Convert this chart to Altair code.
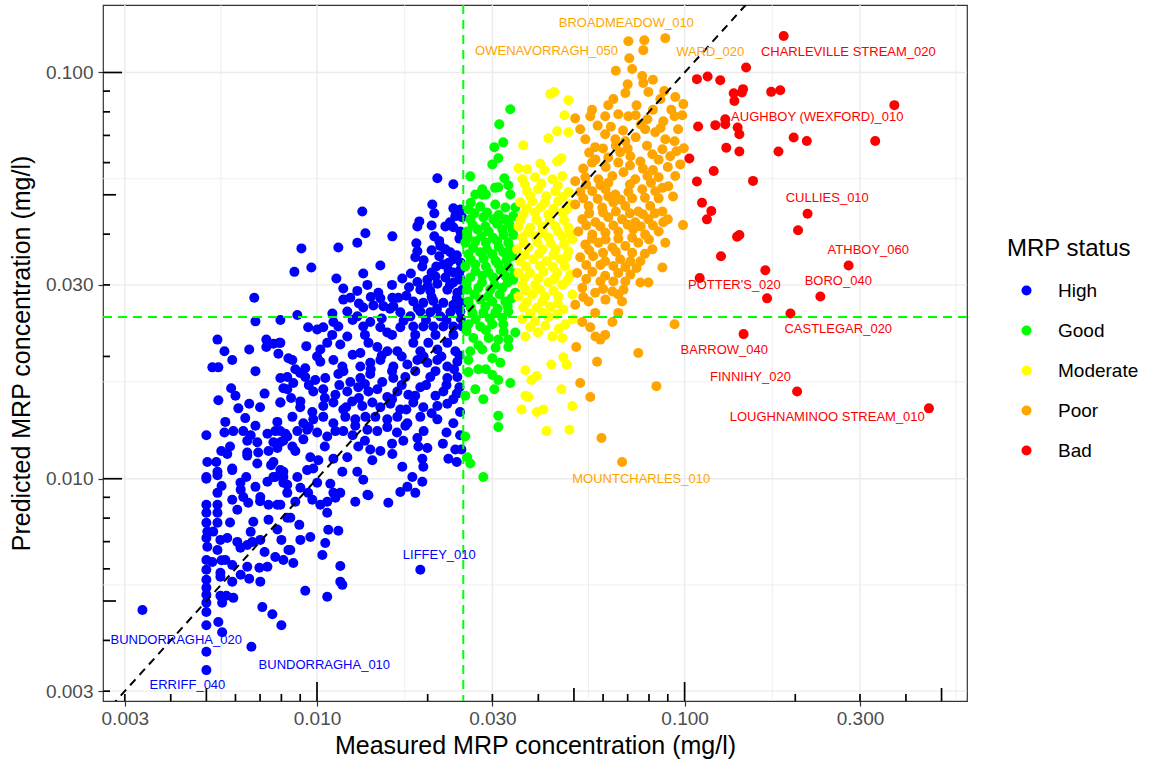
import altair as alt
import pandas as pd

# Measured vs predicted MRP concentration (mg/l), one (measured, predicted) pair per water body
high_sites = [
    (0.00675, 0.0279), (0.00680, 0.0244), (0.00795, 0.0246), (0.00536, 0.0220), (0.00560, 0.0206),
    (0.00588, 0.0196), (0.00654, 0.0208), (0.00728, 0.0220), (0.00728, 0.0211), (0.00761, 0.0215),
    (0.00790, 0.0216), (0.00785, 0.0203), (0.00836, 0.0198), (0.00519, 0.0188), (0.00539, 0.0188),
    (0.00680, 0.0184), (0.00830, 0.0178), (0.00584, 0.0167), (0.00810, 0.0167), (0.00539, 0.0156),
    (0.00654, 0.0153), (0.00611, 0.0149), (0.00795, 0.0154), (0.00638, 0.0141), (0.00563, 0.0138),
    (0.00780, 0.0138), (0.00500, 0.0128), (0.00560, 0.0130), (0.00592, 0.0131), (0.00630, 0.0131),
    (0.00680, 0.0135), (0.00733, 0.0129), (0.00770, 0.0131), (0.00820, 0.0129), (0.00646, 0.0124),
    (0.00688, 0.0123), (0.00761, 0.0123), (0.00810, 0.0124), (0.00549, 0.0117), (0.00570, 0.0115),
    (0.00646, 0.0116), (0.00692, 0.0116), (0.00738, 0.0117), (0.00780, 0.0119), (0.00503, 0.0110),
    (0.00532, 0.0110), (0.00588, 0.0106), (0.00646, 0.0114), (0.00688, 0.0109), (0.00761, 0.0110),
    (0.00500, 0.0101), (0.00536, 0.0104), (0.00642, 0.0101), (0.00761, 0.0101), (0.00810, 0.0104),
    (0.00500, 0.0100), (0.00536, 0.0102), (0.00588, 0.0105), (0.00536, 0.00923), (0.00619, 0.00977),
    (0.00680, 0.00955), (0.00733, 0.00983), (0.00770, 0.0101), (0.00810, 0.00977), (0.00500, 0.00863),
    (0.00536, 0.00863), (0.00588, 0.00888), (0.00630, 0.00902), (0.00650, 0.00873), (0.00607, 0.00839),
    (0.00701, 0.00902), (0.00738, 0.00863), (0.00780, 0.00863), (0.00830, 0.00923), (0.00500, 0.00825),
    (0.00536, 0.00825), (0.00671, 0.00784), (0.00738, 0.00793), (0.00500, 0.00779), (0.00536, 0.00779),
    (0.00503, 0.00741), (0.00522, 0.00741), (0.00830, 0.00802), (0.00546, 0.00707), (0.00570, 0.00715),
    (0.00607, 0.00699), (0.00619, 0.00676), (0.00646, 0.00687), (0.00667, 0.00699), (0.00701, 0.00707),
    (0.00500, 0.00715), (0.00503, 0.00680), (0.00800, 0.00707), (0.00536, 0.00668), (0.00836, 0.00668),
    (0.00500, 0.00631), (0.00519, 0.00624), (0.00563, 0.00631), (0.00588, 0.00613), (0.00770, 0.00642),
    (0.00810, 0.00631), (0.00500, 0.00597), (0.00546, 0.00587), (0.00646, 0.00607), (0.00697, 0.00604),
    (0.00733, 0.00607), (0.00500, 0.00564), (0.00500, 0.00539), (0.00546, 0.00574), (0.00588, 0.00558),
    (0.00654, 0.00567), (0.00701, 0.00558), (0.00500, 0.00518), (0.00546, 0.00515), (0.00567, 0.00515),
    (0.00592, 0.00509), (0.00552, 0.00495), (0.00500, 0.00495), (0.00335, 0.00475), (0.00500, 0.00470),
    (0.00710, 0.00483), (0.00756, 0.00464), (0.00800, 0.00436), (0.00500, 0.00436), (0.00539, 0.00444),
    (0.00552, 0.00419), (0.00663, 0.00386), (0.00500, 0.00375), (0.00500, 0.00338),
    (0.02125, 0.0549), (0.02349, 0.0531), (0.01328, 0.0455), (0.02059, 0.0473), (0.02085, 0.0450),
    (0.02349, 0.0463), (0.02454, 0.0460), (0.02480, 0.0440), (0.02378, 0.0443), (0.01898, 0.0430),
    (0.01875, 0.0418), (0.02234, 0.0418), (0.02349, 0.0416), (0.02454, 0.0406), (0.01354, 0.0402),
    (0.01287, 0.0381), (0.01603, 0.0395), (0.02085, 0.0395), (0.01863, 0.0380), (0.01875, 0.0363),
    (0.01851, 0.0351), (0.02165, 0.0374), (0.02234, 0.0367), (0.02151, 0.0353), (0.02305, 0.0361),
    (0.02349, 0.0347), (0.00907, 0.0369), (0.01143, 0.0371), (0.01934, 0.0333), (0.00965, 0.0331),
    (0.00868, 0.0323), (0.01487, 0.0335), (0.02111, 0.0333), (0.02206, 0.0337), (0.02349, 0.0322),
    (0.02454, 0.0327), (0.01129, 0.0311), (0.01336, 0.0320), (0.01371, 0.0300), (0.01706, 0.0311),
    (0.01875, 0.0305), (0.01996, 0.0309), (0.02098, 0.0315), (0.02234, 0.0313), (0.02349, 0.0304),
    (0.02454, 0.0309), (0.01179, 0.0294), (0.01287, 0.0290), (0.01468, 0.0287), (0.01487, 0.0278),
    (0.01910, 0.0292), (0.02033, 0.0290), (0.02125, 0.0302), (0.02262, 0.0292), (0.02408, 0.0287),
    (0.02485, 0.0292), (0.01179, 0.0276), (0.01232, 0.0279), (0.01603, 0.0279), (0.01664, 0.0279),
    (0.01423, 0.0267), (0.01515, 0.0266), (0.01828, 0.0273), (0.01946, 0.0271), (0.02072, 0.0274),
    (0.02206, 0.0271), (0.02349, 0.0268), (0.02485, 0.0271), (0.01209, 0.0258), (0.01287, 0.0251),
    (0.01336, 0.0264), (0.00884, 0.0253), (0.01101, 0.0255), (0.01108, 0.0243), (0.01143, 0.0237),
    (0.01613, 0.0266), (0.01685, 0.0257), (0.01794, 0.0251), (0.01910, 0.0258), (0.02033, 0.0257),
    (0.02165, 0.0251), (0.02305, 0.0257), (0.02454, 0.0258), (0.00946, 0.0236), (0.01001, 0.0233),
    (0.01040, 0.0236), (0.01336, 0.0237), (0.01396, 0.0243), (0.01487, 0.0236), (0.01553, 0.0229),
    (0.01685, 0.0236), (0.01828, 0.0237), (0.01946, 0.0237), (0.02072, 0.0237), (0.02206, 0.0237),
    (0.02349, 0.0237), (0.02485, 0.0237), (0.00795, 0.0216), (0.00935, 0.0212), (0.01021, 0.0208),
    (0.01066, 0.0216), (0.01157, 0.0214), (0.01209, 0.0224), (0.01312, 0.0204), (0.01380, 0.0216),
    (0.01459, 0.0211), (0.01553, 0.0206), (0.01654, 0.0206), (0.01828, 0.0216), (0.01910, 0.0206),
    (0.02008, 0.0216), (0.02125, 0.0208), (0.02262, 0.0216), (0.02378, 0.0206), (0.00857, 0.0196),
    (0.00873, 0.0186), (0.00929, 0.0187), (0.01021, 0.0194), (0.01108, 0.0196), (0.01172, 0.0189),
    (0.01312, 0.0189), (0.01396, 0.0193), (0.01487, 0.0196), (0.01613, 0.0189), (0.01761, 0.0191),
    (0.01875, 0.0196), (0.01996, 0.0193), (0.02125, 0.0196), (0.02262, 0.0189), (0.02408, 0.0194),
    (0.00795, 0.0177), (0.00862, 0.0172), (0.00929, 0.0178), (0.00989, 0.0175), (0.01053, 0.0177),
    (0.01143, 0.0181), (0.01232, 0.0173), (0.01312, 0.0177), (0.01396, 0.0181), (0.01505, 0.0173),
    (0.01613, 0.0177), (0.01739, 0.0178), (0.02033, 0.0178), (0.02262, 0.0177), (0.02408, 0.0178),
    (0.00830, 0.0166), (0.00901, 0.0155), (0.00977, 0.0164), (0.01040, 0.0166), (0.01122, 0.0161),
    (0.01209, 0.0164), (0.01295, 0.0168), (0.01380, 0.0164), (0.01459, 0.0166), (0.01553, 0.0159),
    (0.01654, 0.0164), (0.01772, 0.0161), (0.01910, 0.0168), (0.02206, 0.0164), (0.02349, 0.0157),
    (0.00795, 0.0154), (0.00971, 0.0146), (0.01040, 0.0151), (0.01108, 0.0154), (0.01179, 0.0148),
    (0.01247, 0.0155), (0.01328, 0.0151), (0.01414, 0.0154), (0.01487, 0.0150), (0.01583, 0.0153),
    (0.01685, 0.0148), (0.01828, 0.0154), (0.01946, 0.0150), (0.02125, 0.0151), (0.02262, 0.0153),
    (0.00857, 0.0142), (0.00918, 0.0137), (0.00977, 0.0140), (0.01040, 0.0142), (0.01108, 0.0137),
    (0.01194, 0.0142), (0.01271, 0.0140), (0.01354, 0.0142), (0.01441, 0.0142), (0.01553, 0.0140),
    (0.01654, 0.0142), (0.01761, 0.0137), (0.01910, 0.0142), (0.02125, 0.0140), (0.02349, 0.0137),
    (0.00795, 0.0131), (0.00830, 0.0127), (0.00884, 0.0131), (0.00940, 0.0132), (0.01001, 0.0130),
    (0.01066, 0.0127), (0.01122, 0.0131), (0.01179, 0.0131), (0.01271, 0.0135), (0.01371, 0.0132),
    (0.01459, 0.0131), (0.01553, 0.0134), (0.01739, 0.0135), (0.00795, 0.0123), (0.00857, 0.0120),
    (0.00918, 0.0125), (0.01295, 0.0120), (0.01396, 0.0118), (0.01487, 0.0117), (0.01603, 0.0115),
    (0.01717, 0.0124), (0.01875, 0.0126), (0.01887, 0.0120), (0.01996, 0.0119), (0.00873, 0.0117),
    (0.00959, 0.0113), (0.01008, 0.0111), (0.01108, 0.0112), (0.01209, 0.0113), (0.02277, 0.0112),
    (0.02378, 0.0118), (0.02470, 0.0118), (0.01934, 0.0112), (0.01946, 0.0107), (0.01414, 0.0111),
    (0.01706, 0.0107), (0.00795, 0.0105), (0.00940, 0.0105), (0.00977, 0.0106), (0.01172, 0.0104),
    (0.01287, 0.0104), (0.01336, 0.00994), (0.01380, 0.00911), (0.01817, 0.0101), (0.01934, 0.00983),
    (0.00810, 0.0101), (0.00884, 0.0101), (0.00830, 0.00966), (0.00901, 0.00950), (0.00946, 0.00923),
    (0.01001, 0.00977), (0.01087, 0.00972), (0.01108, 0.00923), (0.01157, 0.00923), (0.01685, 0.00928),
    (0.01761, 0.00955), (0.01851, 0.00923), (0.00795, 0.00863), (0.00873, 0.00878), (0.00971, 0.00888),
    (0.01021, 0.00863), (0.01066, 0.00878), (0.01122, 0.00898), (0.01271, 0.00878), (0.01371, 0.00913),
    (0.01563, 0.00873), (0.01066, 0.00825), (0.00846, 0.00802), (0.00895, 0.00770), (0.01073, 0.00749),
    (0.01143, 0.00745), (0.00959, 0.00719), (0.00901, 0.00707), (0.01053, 0.00695), (0.00846, 0.00668),
    (0.01034, 0.00649), (0.00862, 0.00620), (0.01157, 0.00610), (0.01157, 0.00558), (0.01172, 0.00548),
    (0.00929, 0.00530), (0.01066, 0.00512), (0.01910, 0.00597),
    (0.0205, 0.0420), (0.0230, 0.0428), (0.0244, 0.0390), (0.0215, 0.0385), (0.0240, 0.0355),
    (0.0205, 0.0365), (0.0228, 0.0340), (0.0195, 0.0345), (0.0246, 0.0340), (0.0180, 0.0320),
    (0.0205, 0.0322), (0.0228, 0.0325), (0.0244, 0.0315), (0.0160, 0.0300), (0.0178, 0.0296),
    (0.0200, 0.0298), (0.0230, 0.0300), (0.0140, 0.0280), (0.0175, 0.0282), (0.0205, 0.0280),
    (0.0240, 0.0278), (0.0130, 0.0270), (0.0158, 0.0262), (0.0188, 0.0263), (0.0212, 0.0262),
    (0.0238, 0.0264), (0.0125, 0.0246), (0.0150, 0.0248), (0.0172, 0.0245), (0.0198, 0.0246),
    (0.0225, 0.0246), (0.0246, 0.0248), (0.0110, 0.0226), (0.0135, 0.0226), (0.0160, 0.0226),
    (0.0185, 0.0226), (0.0210, 0.0226), (0.0235, 0.0226), (0.0100, 0.0200), (0.0125, 0.0202),
    (0.0150, 0.0201), (0.0170, 0.0200), (0.0195, 0.0200), (0.0218, 0.0200), (0.0244, 0.0201),
    (0.0090, 0.0182), (0.0118, 0.0184), (0.0140, 0.0186), (0.0160, 0.0184), (0.0185, 0.0184),
    (0.0210, 0.0184), (0.0236, 0.0186), (0.0095, 0.0170), (0.0115, 0.0170), (0.0135, 0.0171),
    (0.0170, 0.0170), (0.0198, 0.0170), (0.0225, 0.0170), (0.0244, 0.0168), (0.0105, 0.0158),
    (0.0130, 0.0158), (0.0160, 0.0157), (0.0185, 0.0160), (0.0210, 0.0160), (0.0240, 0.0162),
    (0.0090, 0.0150), (0.0120, 0.0150), (0.0175, 0.0148), (0.0205, 0.0145), (0.0245, 0.0146),
    (0.0095, 0.0134), (0.0125, 0.0128), (0.0165, 0.0130), (0.0195, 0.0131), (0.0225, 0.0130),
    (0.0245, 0.0128), (0.0105, 0.0120), (0.0135, 0.0124), (0.0160, 0.0122), (0.0220, 0.0122),
    (0.0240, 0.0110), (0.0070, 0.0150), (0.0072, 0.0162), (0.0060, 0.0160), (0.0085, 0.0158),
    (0.0066, 0.0128), (0.0058, 0.0120), (0.0075, 0.0108), (0.0062, 0.0094), (0.0070, 0.0088),
    (0.0055, 0.0096), (0.0058, 0.0078), (0.0066, 0.0074), (0.0078, 0.0075), (0.0072, 0.0066),
    (0.0062, 0.0058), (0.0055, 0.0063),
]

good_sites = [
    (0.03356, 0.0812), (0.03132, 0.0746), (0.0321, 0.0673), (0.03036, 0.0655), (0.03113, 0.0615),
    (0.02998, 0.0594), (0.02612, 0.0555), (0.03232, 0.0549), (0.03314, 0.0528), (0.03113, 0.0522),
    (0.02816, 0.0516), (0.02695, 0.0501), (0.0288, 0.0501), (0.03356, 0.0501), (0.0258, 0.0460),
    (0.02781, 0.0468), (0.03055, 0.0473), (0.03252, 0.0465), (0.03462, 0.0465), (0.02612, 0.0435),
    (0.02834, 0.0440), (0.03017, 0.0435), (0.03252, 0.0435), (0.0342, 0.0443), (0.02562, 0.0406),
    (0.02728, 0.0411), (0.0293, 0.0406), (0.03192, 0.0411), (0.03398, 0.0411), (0.02531, 0.0381),
    (0.02695, 0.0384), (0.0288, 0.0381), (0.03095, 0.0384), (0.03314, 0.0381), (0.0258, 0.0357),
    (0.02781, 0.0361), (0.02998, 0.0357), (0.03212, 0.0361), (0.03398, 0.0353), (0.02531, 0.0333),
    (0.02695, 0.0337), (0.0288, 0.0333), (0.03113, 0.0337), (0.03314, 0.0333), (0.02612, 0.0313),
    (0.02816, 0.0316), (0.03017, 0.0313), (0.03252, 0.0316), (0.0342, 0.0309), (0.02562, 0.0292),
    (0.02746, 0.0295), (0.02961, 0.0292), (0.03192, 0.0295), (0.03462, 0.0287), (0.0258, 0.0273),
    (0.02781, 0.0276), (0.02998, 0.0273), (0.03252, 0.0273), (0.02645, 0.0256), (0.02834, 0.0256),
    (0.03055, 0.0256), (0.03314, 0.0258), (0.0258, 0.0240), (0.02781, 0.0237), (0.02998, 0.0240),
    (0.03212, 0.0240), (0.03462, 0.0229), (0.02662, 0.0222), (0.0293, 0.0222), (0.03113, 0.0220),
    (0.03314, 0.0220), (0.02612, 0.0206), (0.02816, 0.0208), (0.02998, 0.0198), (0.03152, 0.0193),
    (0.03314, 0.0211), (0.02746, 0.0186), (0.0288, 0.0186), (0.0258, 0.0183), (0.03113, 0.0175),
    (0.03356, 0.0172), (0.02695, 0.0166), (0.03036, 0.0166), (0.02834, 0.0157), (0.02531, 0.0160),
    (0.03113, 0.0143), (0.03113, 0.0134), (0.02531, 0.0127), (0.02562, 0.0113), (0.02612, 0.0109),
    (0.02834, 0.0101),
    (0.0268, 0.0450), (0.0290, 0.0452), (0.0312, 0.0446), (0.0333, 0.0424), (0.0265, 0.0422),
    (0.0287, 0.0418), (0.0309, 0.0424), (0.0342, 0.0398), (0.0257, 0.0394), (0.0280, 0.0396),
    (0.0301, 0.0392), (0.0322, 0.0398), (0.0266, 0.0370), (0.0290, 0.0366), (0.0312, 0.0372),
    (0.0336, 0.0368), (0.0262, 0.0346), (0.0284, 0.0348), (0.0306, 0.0344), (0.0328, 0.0346),
    (0.0270, 0.0324), (0.0293, 0.0322), (0.0316, 0.0326), (0.0345, 0.0320), (0.0255, 0.0303),
    (0.0281, 0.0304), (0.0304, 0.0300), (0.0330, 0.0304), (0.0268, 0.0284), (0.0292, 0.0281),
    (0.0314, 0.0284), (0.0338, 0.0278), (0.0262, 0.0264), (0.0287, 0.0265), (0.0310, 0.0262),
    (0.0330, 0.0266), (0.0270, 0.0247), (0.0295, 0.0248), (0.0319, 0.0249), (0.0255, 0.0231),
    (0.0288, 0.0232), (0.0322, 0.0230), (0.0275, 0.0213), (0.0306, 0.0210), (0.0258, 0.0196),
    (0.0300, 0.0180), (0.0282, 0.0500), (0.0305, 0.0520), (0.0262, 0.0478),
]

moderate_sites = [
    (0.0431, 0.0885), (0.0442, 0.0895), (0.0483, 0.0855), (0.0471, 0.0785), (0.0450, 0.0717),
    (0.0483, 0.0713), (0.0426, 0.0689), (0.0364, 0.0662), (0.0462, 0.0615), (0.0450, 0.0604),
    (0.0405, 0.0597), (0.0353, 0.0581), (0.0373, 0.0578), (0.0415, 0.0575), (0.0362, 0.0546),
    (0.0392, 0.0552), (0.0437, 0.0546), (0.0465, 0.0556), (0.0373, 0.0510), (0.0399, 0.0516),
    (0.0445, 0.0510), (0.0483, 0.0508), (0.0357, 0.0479), (0.0385, 0.0482), (0.0417, 0.0479),
    (0.0453, 0.0482), (0.0489, 0.0473), (0.0364, 0.0447), (0.0392, 0.0452), (0.0426, 0.0447),
    (0.0465, 0.0452), (0.0353, 0.0418), (0.0380, 0.0415), (0.0410, 0.0418), (0.0445, 0.0418),
    (0.0483, 0.0415), (0.0362, 0.0393), (0.0392, 0.0395), (0.0426, 0.0393), (0.0465, 0.0395),
    (0.0495, 0.0388), (0.0350, 0.0367), (0.0376, 0.0371), (0.0410, 0.0367), (0.0445, 0.0367),
    (0.0483, 0.0363), (0.0357, 0.0343), (0.0388, 0.0347), (0.0421, 0.0343), (0.0459, 0.0347),
    (0.0353, 0.0321), (0.0380, 0.0321), (0.0413, 0.0323), (0.0450, 0.0321), (0.0489, 0.0318),
    (0.0362, 0.0300), (0.0392, 0.0300), (0.0426, 0.0304), (0.0465, 0.0300), (0.0353, 0.0281),
    (0.0385, 0.0284), (0.0417, 0.0281), (0.0453, 0.0281), (0.0495, 0.0284), (0.0364, 0.0264),
    (0.0396, 0.0264), (0.0431, 0.0265), (0.0468, 0.0261), (0.0362, 0.0247), (0.0392, 0.0244),
    (0.0426, 0.0250), (0.0474, 0.0240), (0.0498, 0.0247), (0.0369, 0.0224), (0.0399, 0.0229),
    (0.0437, 0.0224), (0.0465, 0.0222), (0.0468, 0.0199), (0.0478, 0.0191), (0.0434, 0.0191),
    (0.0369, 0.0185), (0.0396, 0.0179), (0.0383, 0.0175), (0.0462, 0.0166), (0.0369, 0.0160),
    (0.0360, 0.0148), (0.0376, 0.0159), (0.0495, 0.0151), (0.0396, 0.0146), (0.0413, 0.0148),
    (0.0421, 0.0131), (0.0486, 0.0132),
    (0.0368, 0.0530), (0.0408, 0.0532), (0.0452, 0.0528), (0.0380, 0.0497), (0.0420, 0.0496),
    (0.0466, 0.0494), (0.0372, 0.0463), (0.0406, 0.0466), (0.0440, 0.0462), (0.0478, 0.0460),
    (0.0357, 0.0432), (0.0395, 0.0434), (0.0430, 0.0432), (0.0470, 0.0433), (0.0375, 0.0405),
    (0.0410, 0.0404), (0.0452, 0.0406), (0.0490, 0.0400), (0.0365, 0.0380), (0.0398, 0.0382),
    (0.0432, 0.0380), (0.0470, 0.0378), (0.0368, 0.0356), (0.0402, 0.0358), (0.0440, 0.0356),
    (0.0478, 0.0352), (0.0370, 0.0333), (0.0404, 0.0334), (0.0438, 0.0332), (0.0472, 0.0334),
    (0.0366, 0.0311), (0.0400, 0.0311), (0.0442, 0.0310), (0.0480, 0.0308), (0.0370, 0.0291),
    (0.0404, 0.0292), (0.0440, 0.0290), (0.0372, 0.0272), (0.0410, 0.0273), (0.0452, 0.0270),
    (0.0380, 0.0255), (0.0412, 0.0256), (0.0450, 0.0254), (0.0380, 0.0236), (0.0418, 0.0238),
    (0.0455, 0.0234),
]

poor_sites = [
    (0.0703, 0.1194), (0.0777, 0.1201), (0.0772, 0.1135), (0.0886, 0.1215), (0.0707, 0.1084),
    (0.0767, 0.0980), (0.0772, 0.0942), (0.0797, 0.0895), (0.0690, 0.0890), (0.0620, 0.0831),
    (0.0859, 0.0860), (0.0943, 0.0870), (0.0992, 0.0836), (0.0504, 0.0771), (0.0554, 0.0780),
    (0.0608, 0.0780), (0.0660, 0.0789), (0.0703, 0.0780), (0.0736, 0.0785), (0.0792, 0.0767),
    (0.0875, 0.0758), (0.0939, 0.0780), (0.0985, 0.0785), (0.0537, 0.0685), (0.0571, 0.0655),
    (0.0608, 0.0705), (0.0648, 0.0685), (0.0690, 0.0677), (0.0736, 0.0693), (0.0781, 0.0725),
    (0.0832, 0.0713), (0.0886, 0.0685), (0.0939, 0.0677), (0.0995, 0.0651), (0.0572, 0.0611),
    (0.0620, 0.0618), (0.0668, 0.0636), (0.0712, 0.0622), (0.0758, 0.0604), (0.0817, 0.0629),
    (0.0870, 0.0647), (0.0914, 0.0622), (0.0973, 0.0594), (0.0504, 0.0540), (0.0537, 0.0552),
    (0.0583, 0.0546), (0.0636, 0.0556), (0.0682, 0.0568), (0.0734, 0.0546), (0.0792, 0.0556),
    (0.0850, 0.0552), (0.0943, 0.0556), (0.0520, 0.0508), (0.0561, 0.0510), (0.0609, 0.0516),
    (0.0648, 0.0501), (0.0703, 0.0508), (0.0767, 0.0516), (0.0832, 0.0510), (0.0903, 0.0525),
    (0.0504, 0.0473), (0.0548, 0.0469), (0.0597, 0.0465), (0.0640, 0.0479), (0.0690, 0.0469),
    (0.0748, 0.0455), (0.0806, 0.0469), (0.0870, 0.0455), (0.0527, 0.0435), (0.0572, 0.0428),
    (0.0620, 0.0440), (0.0676, 0.0435), (0.0734, 0.0428), (0.0797, 0.0435), (0.0875, 0.0428),
    (0.0990, 0.0421), (0.0514, 0.0406), (0.0561, 0.0399), (0.0609, 0.0403), (0.0660, 0.0406),
    (0.0725, 0.0411), (0.0781, 0.0399), (0.0850, 0.0406), (0.0537, 0.0377), (0.0583, 0.0381),
    (0.0636, 0.0371), (0.0690, 0.0374), (0.0748, 0.0381), (0.0817, 0.0367), (0.0886, 0.0381),
    (0.0520, 0.0351), (0.0564, 0.0353), (0.0608, 0.0343), (0.0668, 0.0347), (0.0712, 0.0343),
    (0.0758, 0.0343), (0.0870, 0.0331), (0.0510, 0.0321), (0.0561, 0.0323), (0.0608, 0.0316),
    (0.0660, 0.0321), (0.0712, 0.0318), (0.0758, 0.0304), (0.0797, 0.0304), (0.0527, 0.0295),
    (0.0571, 0.0287), (0.0636, 0.0289), (0.0682, 0.0292), (0.0504, 0.0268), (0.0548, 0.0273),
    (0.0609, 0.0276), (0.0676, 0.0273), (0.0571, 0.0256), (0.0660, 0.0256), (0.0636, 0.0243),
    (0.0527, 0.0243), (0.0554, 0.0236), (0.0572, 0.0224), (0.0608, 0.0226), (0.0590, 0.0220),
    (0.0939, 0.0240), (0.0507, 0.0211), (0.0578, 0.0194), (0.0748, 0.0204), (0.0520, 0.0172),
    (0.0554, 0.0159), (0.0838, 0.0169), (0.0594, 0.0126), (0.0676, 0.0110),
    (0.0650, 0.1010), (0.0720, 0.1020), (0.0820, 0.0960), (0.0700, 0.0935), (0.0880, 0.0900),
    (0.0640, 0.0860), (0.0560, 0.0810), (0.0740, 0.0830), (0.0820, 0.0810), (0.0920, 0.0810),
    (0.0520, 0.0725), (0.0580, 0.0740), (0.0630, 0.0735), (0.0680, 0.0720), (0.0760, 0.0745),
    (0.0860, 0.0730), (0.0960, 0.0725), (0.0550, 0.0635), (0.0600, 0.0650), (0.0650, 0.0660),
    (0.0700, 0.0650), (0.0790, 0.0660), (0.0850, 0.0610), (0.0950, 0.0640), (0.0530, 0.0580),
    (0.0560, 0.0600), (0.0610, 0.0585), (0.0660, 0.0600), (0.0710, 0.0590), (0.0770, 0.0580),
    (0.0820, 0.0575), (0.0900, 0.0585), (0.0540, 0.0530), (0.0590, 0.0528), (0.0620, 0.0535),
    (0.0710, 0.0530), (0.0810, 0.0535), (0.0870, 0.0520), (0.0530, 0.0490), (0.0580, 0.0488),
    (0.0620, 0.0495), (0.0670, 0.0486), (0.0720, 0.0490), (0.0780, 0.0492), (0.0850, 0.0490),
    (0.0930, 0.0495), (0.0550, 0.0450), (0.0600, 0.0452), (0.0650, 0.0455), (0.0710, 0.0450),
    (0.0770, 0.0448), (0.0830, 0.0450), (0.0540, 0.0420), (0.0590, 0.0418), (0.0640, 0.0420),
    (0.0700, 0.0422), (0.0760, 0.0418), (0.0820, 0.0420), (0.0900, 0.0435), (0.0560, 0.0390),
    (0.0610, 0.0388), (0.0660, 0.0390), (0.0720, 0.0392), (0.0800, 0.0388), (0.0550, 0.0365),
    (0.0600, 0.0360), (0.0650, 0.0362), (0.0720, 0.0360), (0.0780, 0.0358), (0.0540, 0.0336),
    (0.0590, 0.0336), (0.0640, 0.0334), (0.0690, 0.0332), (0.0740, 0.0330), (0.0540, 0.0310),
    (0.0590, 0.0306), (0.0640, 0.0306), (0.0690, 0.0306), (0.0600, 0.0293), (0.0660, 0.0284),
    (0.0530, 0.0280),
]

bad_sites = [
    (0.186, 0.123), (0.147, 0.1029), (0.108, 0.0963), (0.1155, 0.0978), (0.125, 0.0957),
    (0.136, 0.0889), (0.1442, 0.0910), (0.1432, 0.0893), (0.1366, 0.0851), (0.172, 0.0896),
    (0.182, 0.0904), (0.372, 0.0831), (0.1088, 0.0736), (0.1212, 0.0742), (0.129, 0.0767),
    (0.129, 0.0746), (0.1394, 0.0732), (0.1409, 0.0705), (0.198, 0.0692), (0.215, 0.0678),
    (0.330, 0.0678), (0.1298, 0.0653), (0.1409, 0.0639), (0.180, 0.0639), (0.103, 0.0614),
    (0.120, 0.0572), (0.108, 0.0539), (0.1535, 0.0541), (0.1115, 0.0478), (0.1182, 0.0456),
    (0.115, 0.0435), (0.216, 0.0449), (0.2035, 0.0409), (0.1409, 0.0398), (0.1389, 0.0394),
    (0.1256, 0.0353), (0.2793, 0.0335), (0.1658, 0.0326), (0.1099, 0.0312), (0.1676, 0.0278),
    (0.234, 0.0281), (0.194, 0.0255), (0.1447, 0.0227), (0.2023, 0.0164), (0.462, 0.0149),
]

status_order = ["High", "Good", "Moderate", "Poor", "Bad"]
status_colors = ["#0000FF", "#00FF00", "#FFFF00", "#FFA500", "#FF0000"]

# Named water bodies: (name, status, label x, label y)
site_labels = [
    ("BROADMEADOW_010", "Poor", 0.0694, 0.1323),
    ("OWENAVORRAGH_050", "Poor", 0.0421, 0.1128),
    ("WARD_020", "Poor", 0.1174, 0.1122),
    ("CHARLEVILLE STREAM_020", "Bad", 0.2788, 0.1122),
    ("AUGHBOY (WEXFORD)_010", "Bad", 0.2296, 0.0776),
    ("CULLIES_010", "Bad", 0.2444, 0.0490),
    ("ATHBOY_060", "Bad", 0.3160, 0.0365),
    ("POTTER'S_020", "Bad", 0.1366, 0.0300),
    ("BORO_040", "Bad", 0.2618, 0.0306),
    ("CASTLEGAR_020", "Bad", 0.2618, 0.0233),
    ("BARROW_040", "Bad", 0.1282, 0.0207),
    ("FINNIHY_020", "Bad", 0.1510, 0.0178),
    ("LOUGHNAMINOO STREAM_010", "Bad", 0.2444, 0.0142),
    ("MOUNTCHARLES_010", "Poor", 0.0762, 0.0100),
    ("LIFFEY_010", "High", 0.02151, 0.00649),
    ("BUNDORRAGHA_020", "High", 0.00414, 0.00401),
    ("BUNDORRAGHA_010", "High", 0.01047, 0.00348),
    ("ERRIFF_040", "High", 0.00444, 0.00311),
]

threshold = 0.025
x_breaks = [0.003, 0.01, 0.03, 0.1, 0.3]
y_breaks = [0.003, 0.01, 0.03, 0.1]
x_minor = [0.005477, 0.01732, 0.05477, 0.1732, 0.5477]
y_minor = [0.005477, 0.01732, 0.05477]

# log tick marks along the bottom and left edges
log_long = [0.01, 0.1]
x_log_mid = [0.005, 0.05, 0.5]
y_log_mid = [0.005, 0.05]
x_log_short = [0.003, 0.004, 0.006, 0.007, 0.008, 0.009, 0.02, 0.03, 0.04, 0.06,
               0.07, 0.08, 0.09, 0.2, 0.3, 0.4]
y_log_short = [0.003, 0.004, 0.006, 0.007, 0.008, 0.009, 0.02, 0.03, 0.04, 0.06,
               0.07, 0.08, 0.09]

W, H = 864, 696
FONT = "Liberation Sans"
X_TITLE = "Measured MRP concentration (mg/l)"
Y_TITLE = "Predicted MRP concentration (mg/l)"

rows = []
for status, sites in zip(status_order,
                         [high_sites, good_sites, moderate_sites, poor_sites, bad_sites]):
    for m, p in sites:
        rows.append({"measured": m, "predicted": p, "status": status})
points_df = pd.DataFrame(rows)
labels_df = pd.DataFrame(site_labels, columns=["name", "status", "lx", "ly"])

xs = alt.Scale(type="log", domain=[0.002617, 0.5864], nice=False)
ys = alt.Scale(type="log", domain=[0.002837, 0.1466], nice=False)
cs = alt.Scale(domain=status_order, range=status_colors)
x_axis = alt.Axis(values=x_breaks, format=".3f", grid=False)
y_axis = alt.Axis(values=y_breaks, format=".3f", grid=False)


def XE(field):
    return alt.X(field, type="quantitative", scale=xs, axis=x_axis, title=X_TITLE)


def YE(field):
    return alt.Y(field, type="quantitative", scale=ys, axis=y_axis, title=Y_TITLE)


grid_col = "#EBEBEB"

vmajor = alt.Chart(pd.DataFrame({"v": x_breaks})).mark_rule(
    color=grid_col, strokeWidth=1.4).encode(x=XE("v"))
vminor = alt.Chart(pd.DataFrame({"v": x_minor})).mark_rule(
    color=grid_col, strokeWidth=0.8).encode(x=XE("v"))
hmajor = alt.Chart(pd.DataFrame({"v": y_breaks})).mark_rule(
    color=grid_col, strokeWidth=1.4).encode(y=YE("v"))
hminor = alt.Chart(pd.DataFrame({"v": y_minor})).mark_rule(
    color=grid_col, strokeWidth=0.8).encode(y=YE("v"))

pts = alt.Chart(points_df).mark_circle(size=100, opacity=1).encode(
    x=XE("measured"),
    y=YE("predicted"),
    color=alt.Color("status:N", scale=cs, sort=status_order,
                    legend=alt.Legend(title="MRP status", orient="none",
                                      legendX=904, legendY=232,
                                      symbolType="circle", symbolSize=100,
                                      symbolStrokeWidth=0, symbolOffset=10,
                                      labelOffset=22, rowPadding=20,
                                      titlePadding=20)),
)

diag_df = pd.DataFrame({"x": [0.0026, 0.15], "y": [0.0026, 0.15]})
diag = alt.Chart(diag_df).mark_line(
    color="black", strokeDash=[8, 6], strokeWidth=2, clip=True).encode(
    x=XE("x"), y=YE("y"))

vthr = alt.Chart(pd.DataFrame({"v": [threshold]})).mark_rule(
    color="#00FF00", strokeDash=[9, 6], strokeWidth=2).encode(x=XE("v"))
hthr = alt.Chart(pd.DataFrame({"v": [threshold]})).mark_rule(
    color="#00FF00", strokeDash=[9, 6], strokeWidth=2).encode(y=YE("v"))

texts = alt.Chart(labels_df).mark_text(
    font=FONT, fontSize=13, align="center", baseline="middle").encode(
    x=XE("lx"),
    y=YE("ly"),
    text="name:N",
    color=alt.Color("status:N", scale=cs, legend=None),
)


def xticks(vals, length):
    return alt.Chart(pd.DataFrame({"v": vals})).mark_rule(
        color="black", strokeWidth=1.7).encode(
        x=XE("v"), y=alt.value(H), y2=alt.value(H - length))


def yticks(vals, length):
    return alt.Chart(pd.DataFrame({"v": vals})).mark_rule(
        color="black", strokeWidth=1.7).encode(
        y=YE("v"), x=alt.value(0), x2=alt.value(length))


chart = alt.layer(
    vminor, hminor, vmajor, hmajor, pts, diag, vthr, hthr, texts,
    xticks(log_long, 19), xticks(x_log_mid, 13), xticks(x_log_short, 7),
    yticks(log_long, 19), yticks(y_log_mid, 13), yticks(y_log_short, 7),
).properties(
    width=W, height=H,
    autosize=alt.AutoSizeParams(type="none"),
    padding={"left": 103, "top": 5, "right": 183, "bottom": 63},
).configure(
    font=FONT,
    background="white",
).configure_view(
    stroke="#333333", strokeWidth=1.2,
).configure_axis(
    domain=False,
    labelFont=FONT, labelFontSize=19, labelColor="#4D4D4D",
    tickColor="#333333", tickSize=5, tickWidth=1.2, labelPadding=3,
    titleFont=FONT, titleFontSize=25, titleFontWeight="normal", titleColor="black",
).configure_axisX(
    titlePadding=5,
).configure_axisY(
    titlePadding=11, labelPadding=5,
).configure_legend(
    titleFont=FONT, titleFontSize=24, titleFontWeight="normal", titleColor="black",
    labelFont=FONT, labelFontSize=19, labelColor="black",
)

chart.save("out.html", embed_options={"renderer": "svg", "actions": False})
